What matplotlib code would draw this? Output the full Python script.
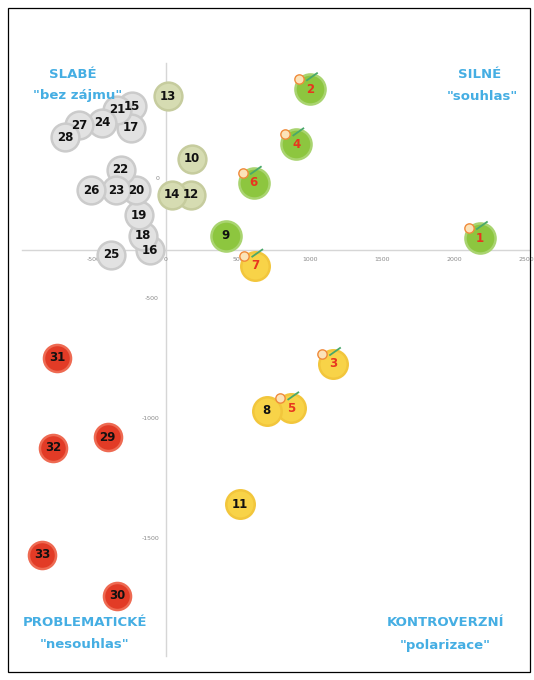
import matplotlib
matplotlib.use("Agg")
import matplotlib.pyplot as plt
from matplotlib.patches import Rectangle

# ---- data ----
ids = list(range(1, 34))
xs = [2180, 1000, 1160, 905, 870, 610, 620, 700, 415, 180, 515, 175, 15, 40,
      -235, -110, -245, -160, -190, -210, -340, -315, -345, -445, -380, -520,
      -605, -700, -405, -340, -755, -785, -860]
ys = [-250, 370, -775, 140, -960, -20, -365, -970, -240, 80, -1360, -70, 340, -70,
      300, -300, 210, -240, -155, -50, 285, 35, -50, 230, -320, -50,
      220, 170, -1080, -1740, -750, -1125, -1570]
groups = (["green"] * 6 + ["yellow", "yellow", "green", "olive", "yellow", "olive", "olive", "olive"]
          + ["gray"] * 14 + ["red"] * 5)
groups[2] = "yellow"
groups[4] = "yellow"
decorated = [1, 2, 3, 4, 5, 6, 7]
x_ticks = [-500, 0, 500, 1000, 1500, 2000, 2500]
y_ticks = [0, -500, -1000, -1500]
axis_cross_y = -300
quadrants = [("SLABÉ", "\"bez zájmu\""), ("SILNÉ", "\"souhlas\""),
             ("PROBLEMATICKÉ", "\"nesouhlas\""), ("KONTROVERZNÍ", "\"polarizace\"")]

# ---- style ----
fills = {"green": "#8dc63f", "yellow": "#f8d348", "olive": "#d6dcb2",
         "gray": "#e2e2e2", "red": "#e23b26"}
edges = {"green": "#a9d470", "yellow": "#f2c63c", "olive": "#c6cc9e",
         "gray": "#cbcbcb", "red": "#ee6a52"}
sizes = {"green": 470, "yellow": 420, "olive": 400, "gray": 400, "red": 380}

W, H = 534, 680
fig = plt.figure(figsize=(W / 100, H / 100), dpi=100)
ax = fig.add_axes([0, 0, 1, 1])
ax.set_xlim(-1152.8, 2555.6)
ax.set_ylim(-2091.7, 741.7)
ax.set_facecolor("white")

# px -> data scale for small decoration offsets
sx = (2555.6 + 1152.8) / W
sy = (741.7 + 2091.7) / H

# axes lines
for s in ["top", "right"]:
    ax.spines[s].set_visible(False)
ax.spines["left"].set_position(("data", 0))
ax.spines["bottom"].set_position(("data", axis_cross_y))
ax.spines["left"].set_bounds(-1990, 480)
ax.spines["bottom"].set_bounds(-1000, 2520)
for s in ["left", "bottom"]:
    ax.spines[s].set_color("#d6d6d6")
    ax.spines[s].set_linewidth(1.0)
    ax.spines[s].set_zorder(0)
ax.set_xticks(x_ticks)
ax.set_yticks(y_ticks)
ax.set_xticklabels([str(v) for v in x_ticks])
ax.set_yticklabels([str(v) for v in y_ticks])
ax.tick_params(length=0, labelsize=4.5, labelcolor="#8a8a8a", pad=5)

# bubbles
for i, x, y, g in zip(ids, xs, ys, groups):
    ax.scatter([x], [y], s=sizes[g], color=fills[g], edgecolors=edges[g],
               linewidths=1.8, zorder=3 + i * 0.01)
    txtcol = "#e8361f" if i in decorated else "#111111"
    ax.text(x, y, str(i), ha="center", va="center", fontsize=8.5,
            fontweight="bold", color=txtcol, zorder=4 + i * 0.01)
    if i in decorated:
        ax.scatter([x - 11 * sx], [y + 10 * sy], s=45, facecolor="#fbe3b8",
                   edgecolors="#f08a3a", linewidths=1.0, zorder=4 + i * 0.01)
        ax.plot([x - 3 * sx, x + 7 * sx], [y + 9 * sy, y + 16 * sy],
                color="#4aa86a", lw=1.3, zorder=4 + i * 0.01)

# quadrant labels
blue = "#45aee3"
pos = [(73, 75, 78, 96), (480, 75, 482, 97), (85, 622, 85, 645), (445, 622, 445, 645)]
for (t1, t2), (x1, y1, x2, y2) in zip(quadrants, pos):
    fig.text(x1 / W, 1 - y1 / H, t1, ha="center", va="center", fontsize=9.5,
             fontweight="bold", color=blue)
    fig.text(x2 / W, 1 - y2 / H, t2, ha="center", va="center", fontsize=9.5,
             fontweight="bold", color=blue)

# outer frame
fig.patches.append(Rectangle((8 / W, 8 / H), (530 - 8) / W, (672 - 8) / H,
                             transform=fig.transFigure, fill=False,
                             edgecolor="black", linewidth=0.9))

fig.savefig("out.png", dpi=100, facecolor="white")
